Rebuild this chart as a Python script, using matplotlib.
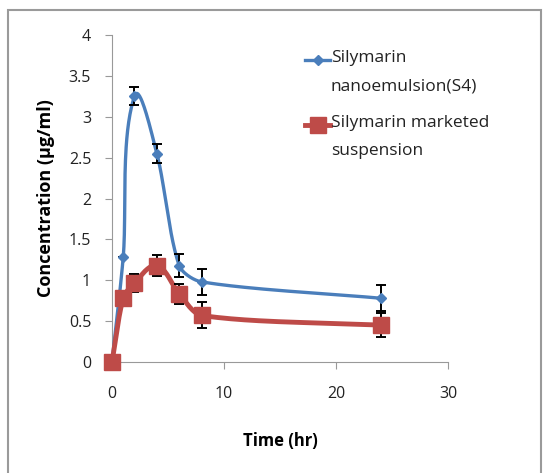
import numpy as np
import matplotlib
matplotlib.use("Agg")
import matplotlib.pyplot as plt
from matplotlib.patches import Rectangle

time = [0, 1, 2, 4, 6, 8, 24]
nano = [0.0, 1.28, 3.25, 2.55, 1.18, 0.98, 0.78]
nano_err = [0.0, 0.0, 0.11, 0.12, 0.14, 0.16, 0.16]
susp = [0.0, 0.78, 0.97, 1.18, 0.83, 0.57, 0.45]
susp_err = [0.0, 0.0, 0.11, 0.13, 0.12, 0.16, 0.15]
labels = [["Silymarin", "nanoemulsion(S4)"], ["Silymarin marketed", "suspension"]]

XS, YS = 336 / 30, 327 / 4  # pixel scale used for smoothing geometry

def smooth(x, y, n=40, k=0.28):
    # Excel-like smoothing in screen space, handles scaled by segment length
    P = np.column_stack([np.asarray(x, float) * XS, np.asarray(y, float) * YS])
    m = len(P)
    T = np.zeros_like(P)
    for i in range(m):
        a = P[max(i - 1, 0)]; b = P[min(i + 1, m - 1)]
        d = b - a
        T[i] = d / np.linalg.norm(d)
    t = np.linspace(0, 1, n)[:, None]
    out = []
    for i in range(m - 1):
        p0, p3 = P[i], P[i + 1]
        L = np.linalg.norm(p3 - p0)
        p1 = p0 + T[i] * L * k
        p2 = p3 - T[i + 1] * L * k
        b = (1 - t)**3 * p0 + 3 * (1 - t)**2 * t * p1 + 3 * (1 - t) * t**2 * p2 + t**3 * p3
        out.append(b)
    B = np.vstack(out)
    return B[:, 0] / XS, B[:, 1] / YS

plt.rcParams['font.family'] = ['Open Sans', 'DejaVu Sans']
fig = plt.figure(figsize=(5.45, 4.73), dpi=100)
fig.patches.append(Rectangle((8/545, -0.05), 533/545, 1 - 10/473 + 0.05, transform=fig.transFigure,
                             fill=False, edgecolor='#9a9a9a', linewidth=1.5))
ax = fig.add_axes([112/545, 1 - 362/473, 336/545, 327/473])

blue = '#4A7EBB'
red = '#BE4B48'
bx, by = smooth(time, nano)
rx, ry = smooth(time, susp)
ax.plot(bx, by, color=blue, lw=2.4, zorder=3)
ax.plot(rx, ry, color=red, lw=3.5, zorder=3)
ax.errorbar(time, nano, yerr=nano_err, fmt='D', color=blue, ms=5.5, ecolor='black', elinewidth=1.4,
            capsize=3.5, capthick=1.4, zorder=4)
ax.errorbar(time, susp, yerr=susp_err, fmt='s', color=red, ms=11.5, ecolor='black', elinewidth=1.4,
            capsize=3.5, capthick=1.4, zorder=4)

ax.set_xlim(0, 30)
ax.set_ylim(0, 4)
ax.set_xticks([0, 10, 20, 30])
ax.set_yticks([0, 0.5, 1, 1.5, 2, 2.5, 3, 3.5, 4])
ax.set_yticklabels(['0', '0.5', '1', '1.5', '2', '2.5', '3', '3.5', '4'])
for s in ['top', 'right']:
    ax.spines[s].set_visible(False)
for s in ['left', 'bottom']:
    ax.spines[s].set_color('#999999')
ax.tick_params(colors='#999999', labelcolor='#222222', labelsize=11.5, length=5, direction='out')
ax.tick_params(axis='x', pad=12)
ax.tick_params(axis='y', pad=10)
ax.set_xlabel('Time (hr)', fontsize=12, fontweight='bold', labelpad=22)
ax.set_ylabel('Concentration (µg/ml)', fontsize=13, fontweight='bold', labelpad=10)
for a in ax.get_children():
    try:
        a.set_clip_on(False)
    except Exception:
        pass

# manual legend (handle aligned with first text line, as in the reference)
def px2ax(xp, yp):
    return (xp - 112) / 336, (362 - yp) / 327

legend_rows = [(blue, 'D', 5.5, 2.4, 60, labels[0]), (red, 's', 11.5, 3.5, 125, labels[1])]
for col, mk, ms, lw, ypx, lines in legend_rows:
    x0, y0 = px2ax(305, ypx)
    x1, _ = px2ax(330, ypx)
    ax.plot([x0, x1], [y0, y0], color=col, lw=lw, transform=ax.transAxes, clip_on=False)
    ax.plot([(x0 + x1) / 2], [y0], marker=mk, ms=ms, color=col, transform=ax.transAxes, clip_on=False)
    for j, ln in enumerate(lines):
        tx, ty = px2ax(331, ypx - 2 + 28 * j)
        ax.text(tx, ty, ln, transform=ax.transAxes, fontsize=12.5, color='#222222',
                ha='left', va='center')

fig.savefig('out.png', dpi=100)
